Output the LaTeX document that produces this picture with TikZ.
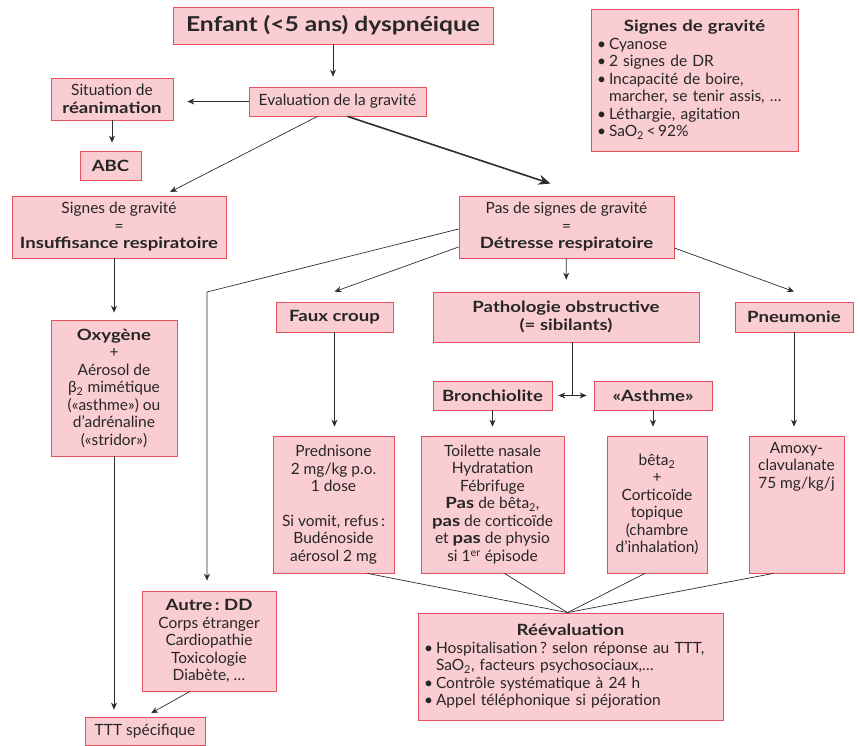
\documentclass[tikz,border=0pt]{standalone}
\usepackage{fontspec}
\setmainfont{Lato}[BoldFeatures={FakeStretch=1.2}]
\usetikzlibrary{arrows.meta}
\definecolor{fondrose}{RGB}{250,205,210}
\definecolor{bordrouge}{RGB}{230,80,92}
\definecolor{trait}{RGB}{45,45,45}
\newcommand{\puce}{\makebox[12pt][l]{\textbullet}}
\frenchspacing

\begin{document}
\begin{tikzpicture}[x=1pt,y=-1pt,>={Stealth[length=7pt,width=6pt]},
		every node/.style={shape=rectangle,draw=bordrouge,fill=fondrose,
		line width=0.8pt,align=center,inner sep=2pt,text=black!85,
		font=\fontsize{15.5}{17.5}\selectfont},
		lien/.style={draw=trait,line width=0.7pt}]
		\useasboundingbox (0,0) rectangle (860,746);
		% create the nodes
		\node[minimum width=320pt,minimum height=37pt,
		font=\fontsize{20.5}{24}\selectfont\bfseries] (enfant) at (333,25.5)
		{Enfant (<5 ans) dyspnéique};
		\node[minimum width=207pt,minimum height=142pt,text width=195pt,
		align=left] (signesgravite) at (694.5,80) {\mbox{}\hfill
			\textbf{Signes de gravité}\hfill\mbox{}\\
			\puce Cyanose\\
			\puce 2 signes de DR\\
			\puce Incapacité de boire,\\
			\hspace*{12pt}marcher, se tenir assis, \dots\\
			\puce Léthargie, agitation\\
			\puce SaO\textsubscript{2}\,<\,92\%};
		\node[minimum width=177pt,minimum height=29pt] (evaluation)
		at (337.5,101.5) {Evaluation de la gravité};
		\node[minimum width=122pt,minimum height=42pt] (situation)
		at (112,99) {Situation de\\\textbf{réanimation}};
		\node[minimum width=61pt,minimum height=29pt] (abc) at (110.5,165.5)
		{\textbf{ABC}};
		\node[minimum width=214pt,minimum height=62pt] (signesir) at (119,227)
		{Signes de gravité\\=\\\textbf{Insuffisance respiratoire}};
		\node[minimum width=126pt,minimum height=136pt] (oxygene) at (114,388)
		{\textbf{Oxygène}\\+\\Aérosol de\\β\textsubscript{2} mimétique\\
			(«asthme») ou\\d'adrénaline\\(«stridor»)};
		\node[minimum width=215pt,minimum height=62pt] (pasdesignes)
		at (566.5,227) {Pas de signes de gravité\\=\\
			\textbf{Détresse respiratoire}};
		\node[minimum width=117pt,minimum height=30pt] (fauxcroup)
		at (334.5,317) {\textbf{Faux croup}};
		\node[minimum width=266pt,minimum height=50pt] (pathologie)
		at (566,317) {\textbf{Pathologie obstructive}\\\textbf{(= sibilants)}};
		\node[minimum width=118pt,minimum height=30pt] (pneumonie)
		at (794,317) {\textbf{Pneumonie}};
		\node[minimum width=119pt,minimum height=29pt] (bronchiolite)
		at (492.5,395.5) {\textbf{Bronchiolite}};
		\node[minimum width=118pt,minimum height=29pt] (asthme)
		at (653,395.5) {\textbf{«Asthme»}};
		\node[minimum width=121pt,minimum height=137pt] (prednisone)
		at (333.5,504.5) {Prednisone\\2 mg/kg p.o.\\1 dose\\[17pt]
			Si vomit, refus\,:\\Budénoside\\aérosol 2 mg};
		\node[minimum width=143pt,minimum height=137pt] (toilette)
		at (492.5,504.5) {Toilette nasale\\Hydratation\\Fébrifuge\\
			\textbf{Pas} de bêta\textsubscript{2},\\\textbf{pas} de corticoïde\\
			et \textbf{pas} de physio\\si 1\textsuperscript{er} épisode};
		\node[minimum width=100pt,minimum height=137pt] (beta) at (657,504.5)
		{bêta\textsubscript{2}\\+\\Corticoïde\\topique\\(chambre\\
			d'inhalation)};
		\node[minimum width=95pt,minimum height=137pt] (amoxy)
		at (796.5,504.5) {\parbox[c][125pt][t]{88pt}{\centering
				Amoxy-\\clavulanate\\75 mg/kg/j}};
		\node[minimum width=134pt,minimum height=100pt] (autre) at (209,641)
		{\textbf{Autre\,: DD}\\Corps étranger\\Cardiopathie\\Toxicologie\\
			Diabète, \dots};
		\node[minimum width=120pt,minimum height=28pt] (ttt) at (145,731)
		{TTT spécifique};
		\node[minimum width=305pt,minimum height=107pt,text width=293pt,
		align=left] (reevaluation) at (570.5,666.5) {\mbox{}\hfill
			\textbf{Réévaluation}\hfill\mbox{}\\
			\puce Hospitalisation\,? selon réponse au TTT,\\
			\hspace*{12pt}SaO\textsubscript{2}, facteurs psychosociaux,\dots\\
			\puce Contrôle systématique à 24 h\\
			\puce Appel téléphonique si péjoration};
		\coordinate (coude) at (207,292);

		% connect the nodes
		\draw[lien,->] (enfant.south) -- ([yshift=10pt]enfant.south |- evaluation.north);
		\draw[lien,->,shorten >=14pt] (evaluation.west) -- (evaluation.west -| situation.east);
		\draw[lien,->,shorten >=8pt] (situation.south) -- (situation.south |- abc.north);
		\draw[lien,->,shorten >=8pt] ([xshift=-20pt]evaluation.south)
		-- ([xshift=44pt]signesir.north);
		\draw[lien,line width=1.6pt,-{Stealth[length=12pt,width=10pt]}]
		([xshift=10pt]evaluation.south) -- ([xshift=-16pt,yshift=12pt]pasdesignes.north);
		\draw[lien,->,shorten >=7pt] (oxygene.north |- signesir.south) -- (oxygene.north);
		\draw[lien,->,shorten >=7pt] (oxygene.south) -- (oxygene.south |- ttt.north);
		\draw[lien,->,shorten >=7pt] ([xshift=-19pt]autre.south) -- (ttt.north);
		\draw[lien,->,shorten >=10pt] ([yshift=-2pt]pasdesignes.west) -- (coude)
		-- (coude |- autre.north);
		\draw[lien,->] ([yshift=-20pt]pasdesignes.west) -- ([yshift=10pt]fauxcroup.north);
		\draw[lien,->,shorten >=12pt] (pasdesignes) -- (pathologie);
		\draw[lien,->] ([yshift=-21pt]pasdesignes.east) -- ([yshift=10pt]pneumonie.north);
		\draw[lien] ([xshift=6pt]pathologie.south) -- ([xshift=6pt]pathologie.south |- bronchiolite.east)
		coordinate (fourche);
		\draw[lien,->,shorten >=6pt] (fourche) -- (bronchiolite.east);
		\draw[lien,->,shorten >=7pt] (fourche) -- (asthme.west);
		\draw[lien,->,shorten >=9pt] (fauxcroup.south) -- (fauxcroup.south |- prednisone.north);
		\draw[lien,->,shorten >=9pt] (bronchiolite) -- (toilette);
		\draw[lien,->,shorten >=9pt] (asthme.south) -- (asthme.south |- beta.north);
		\draw[lien,->,shorten >=9pt] (pneumonie.south) -- (pneumonie.south |- amoxy.north);
		\draw[lien] ([xshift=34pt]prednisone.south) -- ([xshift=-3pt]reevaluation.north);
		\draw[lien] ([xshift=12pt]toilette.south) -- ([xshift=-3pt]reevaluation.north);
		\draw[lien] ([xshift=-12pt]beta.south) -- ([xshift=-3pt]reevaluation.north);
		\draw[lien] ([xshift=-23pt]amoxy.south) -- ([xshift=-3pt]reevaluation.north);

	\end{tikzpicture}
\end{document}
